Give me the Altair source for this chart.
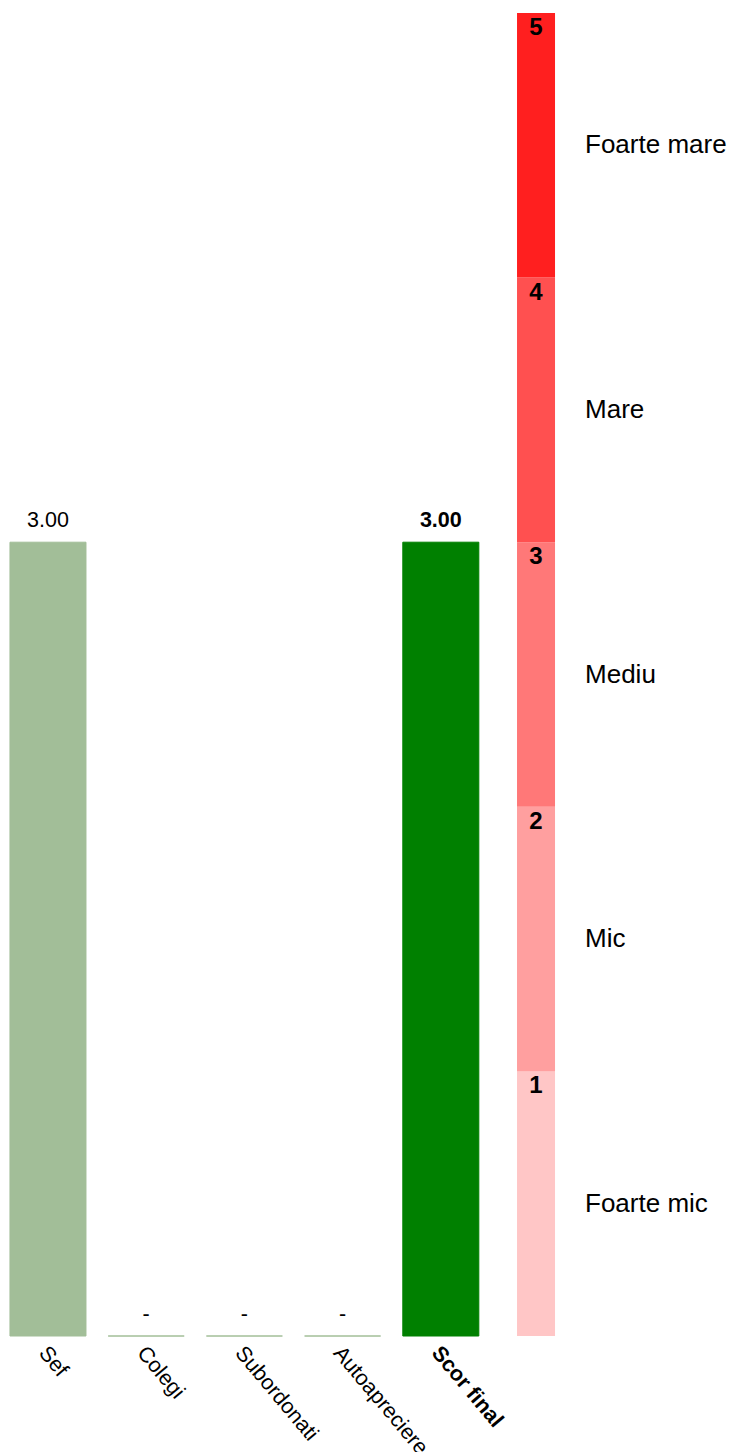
import altair as alt
import pandas as pd

# --- data ---
categories = ["Sef", "Colegi", "Subordonati", "Autoapreciere", "Scor final"]
scores = [3.0, 0.0, 0.0, 0.0, 3.0]
bar_colors = ["#a2be98", "#a2be98", "#a2be98", "#a2be98", "#008000"]

levels = [1, 2, 3, 4, 5]
level_names = ["Foarte mic", "Mic", "Mediu", "Mare", "Foarte mare"]
level_colors = ["#ffc6c6", "#ff9f9f", "#ff7878", "#ff5050", "#ff1f1f"]

scale_col = " "
x_domain = categories + [scale_col]

bars_df = pd.DataFrame({"cat": categories, "score": scores})
scale_df = pd.DataFrame({"cat": [scale_col] * len(levels), "level": levels, "name": level_names})

FONT = "Liberation Sans"

x_enc = alt.X(
    "cat:N",
    scale=alt.Scale(domain=x_domain, paddingInner=0.226, paddingOuter=0.02),
    sort=x_domain,
    axis=alt.Axis(
        title=None, domain=False, ticks=False, grid=False,
        labelAngle=50, labelAlign="left", labelBaseline="top",
        labelPadding=6, labelOffset=3, labelFontSize=21.5, labelFont=FONT, labelColor="#000",
        labelFontWeight={"condition": {"test": "datum.value === 'Scor final'", "value": "bold"}, "value": "normal"},
    ),
)
y_scale = alt.Scale(domain=[0, 5], nice=False)
y_enc = alt.Y("score:Q", scale=y_scale, axis=None)

base = alt.Chart(bars_df)

bars = base.mark_bar(strokeWidth=1).encode(
    x=x_enc,
    y=y_enc,
    color=alt.Color("cat:N", scale=alt.Scale(domain=categories, range=bar_colors), legend=None),
    stroke=alt.Stroke("cat:N", scale=alt.Scale(domain=categories, range=bar_colors), legend=None),
)

labels = base.transform_calculate(
    lab="datum.score > 0 ? format(datum.score, '.2f') : '-'"
)

val_text = labels.transform_filter(alt.datum.cat != "Scor final").mark_text(
    baseline="alphabetic", dy=-15, fontSize=21.5, font=FONT, color="#000"
).encode(x=alt.X("cat:N"), y=alt.Y("score:Q"), text="lab:N")

val_text_bold = labels.transform_filter(alt.datum.cat == "Scor final").mark_text(
    baseline="alphabetic", dy=-15, fontSize=21.5, font=FONT, fontWeight="bold", color="#000"
).encode(x=alt.X("cat:N"), y=alt.Y("score:Q"), text="lab:N")

sbase = alt.Chart(scale_df).transform_calculate(lo="datum.level - 1", mid="datum.level - 0.5")

scale_bars = sbase.mark_bar(size=38).encode(
    x=alt.X("cat:N"),
    xOffset=alt.value(35),
    y=alt.Y("lo:Q"),
    y2=alt.Y2("level:Q"),
    color=alt.Color("level:O", scale=alt.Scale(domain=levels, range=level_colors), legend=None),
)

scale_nums = sbase.mark_text(
    baseline="top", dy=3, dx=-3, fontSize=24, fontWeight="bold", font=FONT, color="#000"
).encode(x=alt.X("cat:N"), y=alt.Y("level:Q"), text="level:N")

scale_names = sbase.mark_text(
    align="left", baseline="middle", dx=46, fontSize=26, font=FONT, color="#000"
).encode(x=alt.X("cat:N"), y=alt.Y("mid:Q"), text="name:N")

chart = alt.layer(
    bars, val_text, val_text_bold, scale_bars, scale_nums, scale_names
).resolve_scale(color="independent", stroke="independent").properties(
    width=571, height=1323,
    padding={"left": 0, "top": 5, "right": 0, "bottom": 0},
).configure_view(stroke=None)

chart.save("out.html", embed_options={"renderer": "svg", "actions": False})
